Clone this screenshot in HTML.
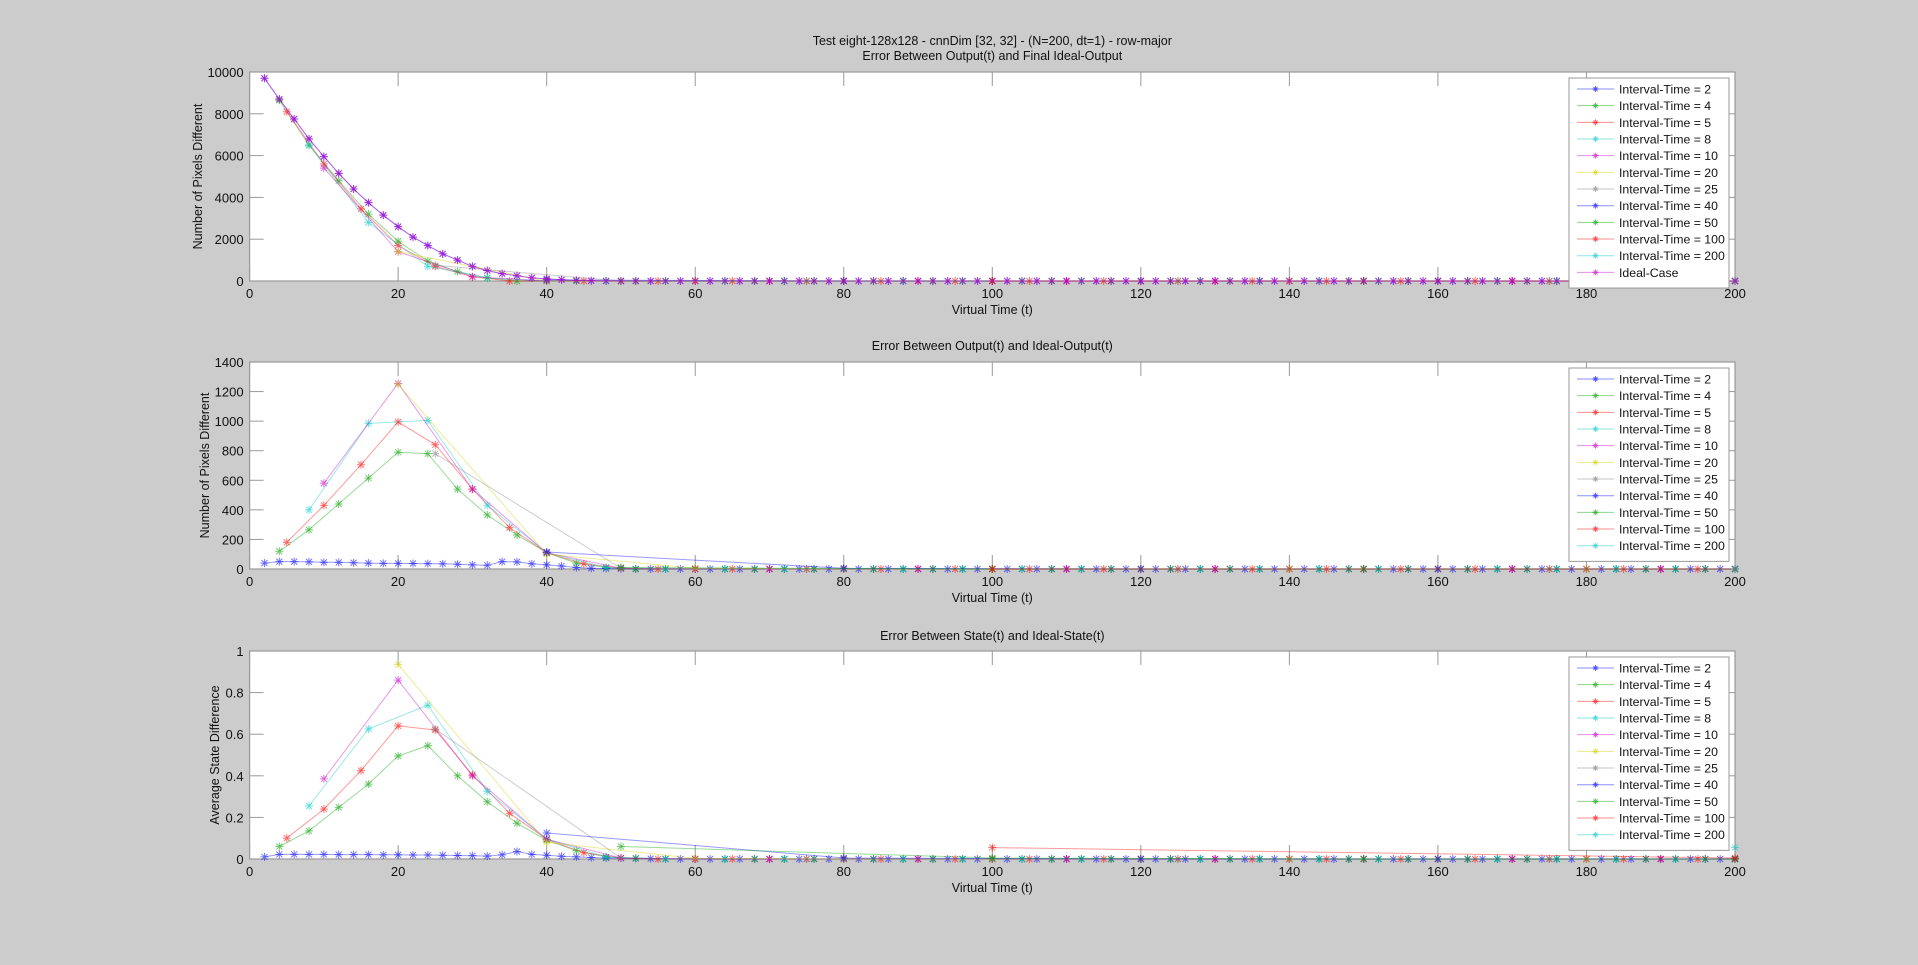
<!DOCTYPE html>
<html><head><meta charset="utf-8"><style>
html,body{margin:0;padding:0;background:#cccccc;}
svg{display:block;font-family:"Liberation Sans",sans-serif;}
</style></head><body>
<svg id="fig" width="1918" height="965" xmlns="http://www.w3.org/2000/svg">
<rect x="0" y="0" width="1918" height="965" fill="#cccccc"/>
</svg>
<script>
// ---------- data ----------
const seriesNames = ["Interval-Time = 2","Interval-Time = 4","Interval-Time = 5","Interval-Time = 8","Interval-Time = 10","Interval-Time = 20","Interval-Time = 25","Interval-Time = 40","Interval-Time = 50","Interval-Time = 100","Interval-Time = 200","Ideal-Case"];
const intervals = [2,4,5,8,10,20,25,40,50,100,200,2];
const xTicks = [0,20,40,60,80,100,120,140,160,180,200];
const yTicks1 = [0,2000,4000,6000,8000,10000];
const yTicks2 = [0,200,400,600,800,1000,1200,1400];
const yTicks3 = [0,0.2,0.4,0.6,0.8,1];
const yTickLabels3 = ["0","0.2","0.4","0.6","0.8","1"];

// Plot 1: Error between output and final ideal output (leading values; remaining samples are 0)
const p1_i2 = [9700,8700,7750,6800,5950,5150,4400,3750,3150,2600,2100,1700,1300,1000,700,500,350,250,150,100,60,30,10];
const p1_i4 = [8650,6500,4800,3200,1900,950,450,150,0];
const p1_i5 = [8100,5600,3450,1700,700,200,0];
const p1_i8 = [6500,2800,700,150,0];
const p1_i10 = [5400,1400,200,0];
const p1_i20 = [1400,0];
const p1_i25 = [750,0];
const p1_i40 = [50,0];
const p1_i50 = [0];
const p1_i100 = [0];
const p1_i200 = [0];
const p1_ideal = [9700,8700,7750,6800,5950,5150,4400,3750,3150,2600,2100,1700,1300,1000,700,500,350,250,150,100,60,30,10];

// Plot 2: Error between output and ideal output
const p2_i2 = [40,50,50,48,45,45,42,40,38,38,37,36,35,32,28,25,50,48,35,28,20,10,5,3,2];
const p2_i4 = [120,265,440,615,790,780,540,365,230,110,40,10];
const p2_i5 = [180,430,705,995,840,540,280,110,35,5];
const p2_i8 = [400,985,1005,430,110,10];
const p2_i10 = [580,1255,540,110,5];
const p2_i20 = [1250,100,5];
const p2_i25 = [780,5];
const p2_i40 = [115,5];
const p2_i50 = [10,0];
const p2_i100 = [0,0];
const p2_i200 = [0];

// Plot 3: Error between state and ideal state
const p3_i2 = [0.01,0.022,0.022,0.022,0.022,0.021,0.021,0.021,0.02,0.02,0.019,0.019,0.018,0.017,0.016,0.014,0.02,0.036,0.022,0.018,0.013,0.01,0.007,0.005,0.004,0.003,0.002];
const p3_i4 = [0.06,0.135,0.248,0.36,0.495,0.545,0.4,0.275,0.172,0.09,0.04,0.01,0.003];
const p3_i5 = [0.1,0.24,0.425,0.64,0.62,0.405,0.22,0.095,0.03,0.005];
const p3_i8 = [0.255,0.625,0.74,0.325,0.095,0.01];
const p3_i10 = [0.385,0.86,0.4,0.095,0.005];
const p3_i20 = [0.935,0.08,0.003];
const p3_i25 = [0.625,0.005];
const p3_i40 = [0.125,0.005];
const p3_i50 = [0.06,0.005];
const p3_i100 = [0.055,0.005];
const p3_i200 = [0.055];

const colors = ["#0000ff","#00a000","#ff0000","#00c8c8","#c800c8","#d0d000","#808080","#0000ff","#00a000","#ff0000","#00c8c8","#c800c8"];

// ---------- helpers ----------
const NS="http://www.w3.org/2000/svg";
const svg=document.getElementById('fig');
function mk(tag,attrs,parent){const e=document.createElementNS(NS,tag);for(const k in attrs)e.setAttribute(k,attrs[k]);(parent||svg).appendChild(e);return e;}
function pad(vals,k){const n=Math.floor(200/k);const out=vals.slice(0,n);while(out.length<n)out.push(0);return out;}
const X0=249.6,X1=1735;
function xs(t){return X0+(t/200)*(X1-X0);}

function drawPlot(cfg){
  const g=mk('g',{});
  
  
  const top=cfg.top,bot=cfg.bot,ymax=cfg.ymax;
  const ys=v=>bot-(v/ymax)*(bot-top);
  const bg=mk('rect',{x:X0,y:top,width:X1-X0,height:bot-top,fill:'#fff'},g);
  
  
  // ticks
  xTicks.forEach(t=>{
    const x=xs(t);
    mk('line',{x1:x,y1:bot,x2:x,y2:bot-14,stroke:'#999','stroke-width':1},g);
    mk('line',{x1:x,y1:top,x2:x,y2:top+14,stroke:'#999','stroke-width':1},g);
    const tl=mk('text',{x:x,y:bot+17,'font-size':13,'text-anchor':'middle',fill:'#111'},g);
    tl.textContent=String(t);
    
    
  });
  cfg.yTicks.forEach((v,i)=>{
    const y=ys(v);
    mk('line',{x1:X0,y1:y,x2:X0+14,y2:y,stroke:'#999','stroke-width':1},g);
    mk('line',{x1:X1,y1:y,x2:X1-14,y2:y,stroke:'#999','stroke-width':1},g);
    const tl=mk('text',{x:X0-6,y:y+5,'font-size':13,'text-anchor':'end',fill:'#111'},g);
    tl.textContent=cfg.yLabels?cfg.yLabels[i]:String(v);
    
    
  });
  mk('rect',{x:X0,y:top,width:X1-X0,height:bot-top,fill:'none',stroke:'#999','stroke-width':1.2},g);
  // series
  cfg.series.forEach((vals,si)=>{
    const k=intervals[si];
    const data=pad(vals,k);
    const sg=mk('g',{},g);
    
    
    const pts=data.map((v,i)=>xs(k*(i+1)).toFixed(1)+','+ys(v).toFixed(1)).join(' ');
    mk('polyline',{points:pts,fill:'none',stroke:colors[si],'stroke-opacity':0.4,'stroke-width':1},sg);
    data.forEach((v,i)=>{
      const x=xs(k*(i+1)),y=ys(v),r=4;
      const m=mk('path',{d:`M${x-r},${y}H${x+r}M${x},${y-r}V${y+r}M${x-3},${y-3}L${x+3},${y+3}M${x-3},${y+3}L${x+3},${y-3}`,stroke:colors[si],'stroke-opacity':0.55,'stroke-width':1},sg);
      
      
    });
  });
  // titles
  cfg.title.forEach((t,i)=>{
    const tt=mk('text',{x:(X0+X1)/2,y:cfg.titleY+i*15,'font-size':12.5,'text-anchor':'middle',fill:'#111'},g);
    tt.textContent=t;
    
    
  });
  const xl=mk('text',{x:(X0+X1)/2,y:bot+33,'font-size':12.5,'text-anchor':'middle',fill:'#111'},g);
  xl.textContent='Virtual Time (t)';
  
  
  const cy=(top+bot)/2;
  const yl=mk('text',{x:cfg.ylx,y:cy,'font-size':12.5,'text-anchor':'middle',fill:'#111',transform:`rotate(-90 ${cfg.ylx} ${cy})`},g);
  yl.textContent=cfg.ylabel;
  
  
  // legend
  const n=cfg.series.length;
  const lg=mk('g',{},g);
  
  
  const lt=top+6, rh=16.67;
  mk('rect',{x:1569,y:lt,width:160,height:10+n*rh,fill:'#fff',stroke:'#999','stroke-width':1},lg);
  for(let i=0;i<n;i++){
    const y=lt+11+i*rh;
    const e=mk('g',{},lg);
    
    
    mk('line',{x1:1577,y1:y,x2:1614,y2:y,stroke:colors[i],'stroke-opacity':0.45,'stroke-width':1},e);
    const c=1595.5;
    mk('path',{d:`M${c-3},${y}H${c+3}M${c},${y-3}V${y+3}M${c-2},${y-2}L${c+2},${y+2}M${c-2},${y+2}L${c+2},${y-2}`,stroke:colors[i],'stroke-opacity':0.6},e);
    const tx=mk('text',{x:1619,y:y+4.5,'font-size':12.3,fill:'#111'},e);
    tx.textContent=seriesNames[i];
  }
}

drawPlot({name:'plot-final-ideal-output-error',top:72,bot:281,ymax:10000,yTicks:yTicks1,
  series:[p1_i2,p1_i4,p1_i5,p1_i8,p1_i10,p1_i20,p1_i25,p1_i40,p1_i50,p1_i100,p1_i200,p1_ideal],
  title:['Test eight-128x128 - cnnDim [32, 32] - (N=200, dt=1) - row-major','Error Between Output(t) and Final Ideal-Output'],titleY:45,
  ylabel:'Number of Pixels Different',ylx:202});
drawPlot({name:'plot-ideal-output-error',top:362,bot:569,ymax:1400,yTicks:yTicks2,
  series:[p2_i2,p2_i4,p2_i5,p2_i8,p2_i10,p2_i20,p2_i25,p2_i40,p2_i50,p2_i100,p2_i200],
  title:['Error Between Output(t) and Ideal-Output(t)'],titleY:350,
  ylabel:'Number of Pixels Different',ylx:209});
drawPlot({name:'plot-ideal-state-error',top:651,bot:859,ymax:1,yTicks:yTicks3,yLabels:yTickLabels3,
  series:[p3_i2,p3_i4,p3_i5,p3_i8,p3_i10,p3_i20,p3_i25,p3_i40,p3_i50,p3_i100,p3_i200],
  title:['Error Between State(t) and Ideal-State(t)'],titleY:640,
  ylabel:'Average State Difference',ylx:219});
</script>
</body></html>
